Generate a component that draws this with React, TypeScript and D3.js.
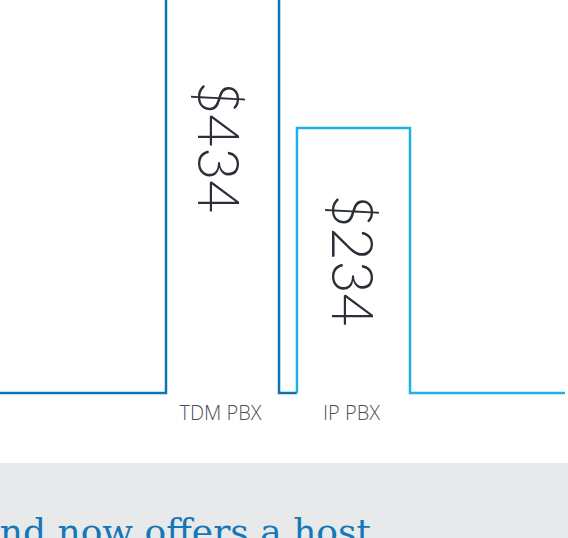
import React from "react";
import * as d3 from "d3";

const categories = ["TDM PBX", "IP PBX"];
const values = [434, 234];
const valueLabels = ["$434", "$234"];
const bottomText = "and now offers a host";

const W = 568;
const H = 538;
const baseY = 393;

export default function App() {
  const x = d3.scaleBand<string>().domain(categories).range([166, 410]).paddingInner(0.137).paddingOuter(0);
  const y = d3.scaleLinear().domain([0, 234]).range([baseY, 128]);
  const bw = x.bandwidth();

  const x0 = x(categories[0])!;
  const x1 = x(categories[1])!;

  const line = d3.line<[number, number]>().x((d) => d[0]).y((d) => d[1]);

  const darkPts: [number, number][] = [
    [0, y(0)],
    [x0, y(0)],
    [x0, y(values[0])],
    [x0 + bw, y(values[0])],
    [x0 + bw, y(0)],
    [x1, y(0)],
  ];
  const lightPts: [number, number][] = [
    [x1, y(0)],
    [x1, y(values[1])],
    [x1 + bw, y(values[1])],
    [x1 + bw, y(0)],
    [565, y(0)],
  ];

  return (
    <div style={{ position: "absolute", left: 0, top: 0, width: W, height: H, overflow: "hidden" }}>
      <svg width={W} height={H} style={{ display: "block" }}>
        <rect x={0} y={0} width={W} height={H} fill="#ffffff" />
        <path d={line(darkPts)!} fill="none" stroke="#0b74b2" strokeWidth={2.5} strokeLinejoin="miter" />
        <path d={line(lightPts)!} fill="none" stroke="#1cb3e3" strokeWidth={2.5} strokeLinejoin="miter" />
        {categories.map((c, i) => {
          const cx = x(c)! + bw / 2 - 25 + 3.5 * i;
          const cy = y(values[i] / 2);
          return (
            <text
              key={"v" + c}
              transform={`translate(${cx},${cy}) rotate(90)`}
              textAnchor="middle"
              fontFamily="Lato, 'Open Sans', sans-serif"
              fontWeight={300}
              fontSize={57}
              fill="#2b3038"
            >
              {valueLabels[i]}
            </text>
          );
        })}
        {categories.map((c) => (
          <text
            key={"l" + c}
            x={x(c)! + bw / 2 - 2}
            y={420}
            textAnchor="middle"
            fontFamily="'Open Sans', sans-serif"
            fontWeight={300}
            fontSize={20}
            fill="#4d5156"
          >
            {c}
          </text>
        ))}
        <rect x={0} y={463} width={W} height={H - 463} fill="#e8e9eb" />
        <text
          x={371}
          y={544}
          textAnchor="end"
          fontFamily="'DejaVu Serif', serif"
          fontSize={36}
          fill="#1478b6"
        >
          {bottomText}
        </text>
      </svg>
    </div>
  );
}
